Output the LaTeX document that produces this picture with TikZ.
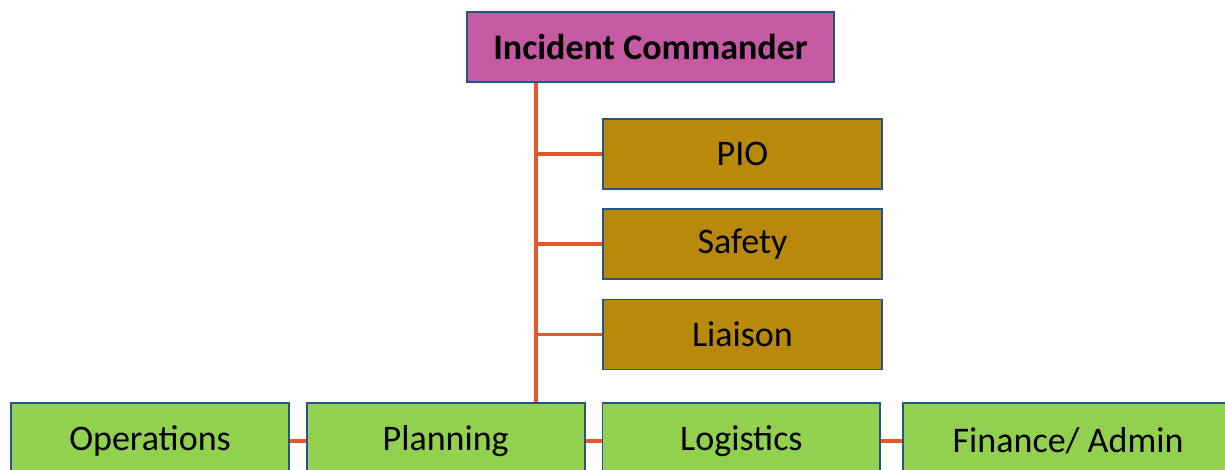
\documentclass[tikz,border=0pt]{standalone}
\usepackage{fontspec}
\setmainfont{Carlito}
\usepackage{xcolor}
\definecolor{cmdpink}{RGB}{197,90,162}
\definecolor{staffgold}{RGB}{185,137,12}
\definecolor{sectgreen}{RGB}{146,208,80}
\definecolor{edgeblue}{RGB}{40,85,130}
\definecolor{linkorange}{RGB}{226,88,41}
\usetikzlibrary{positioning,calc}
\tikzset{
  orgbox/.style={rectangle,draw=edgeblue,line width=1pt,text=black,align=center,
    font=\fontsize{20.5}{24}\selectfont,minimum height=1.4cm,inner sep=2pt},
  chiefbox/.style={orgbox,fill=cmdpink,font=\fontsize{20.5}{24}\selectfont\bfseries,
    minimum width=7.34cm},
  staffbox/.style={orgbox,fill=staffgold,minimum width=5.58cm},
  sectbox/.style={orgbox,fill=sectgreen,minimum width=5.56cm,minimum height=1.52cm},
  link/.style={draw=linkorange,line width=2.2pt},
}

\begin{document}
\begin{tikzpicture}[x=0.02cm,y=-0.02cm]
  \useasboundingbox (0,0) rectangle (1225,470);
  \clip (0,0) rectangle (1225,470);
  % command and staff
  \node[chiefbox] (ic) at (650.5,47) {Incident Commander};
  \node[staffbox] (pio) at (742.5,154) {PIO};
  \node[staffbox,below=0.36cm of pio] (safety) {Safety};
  \node[staffbox,below=0.38cm of safety] (liaison) {Liaison};
  % general staff sections
  \node[sectbox] (ops) at (150,441) {Operations};
  \node[sectbox,right=0.32cm of ops] (plan) {Planning};
  \node[sectbox,right=0.32cm of plan] (logi) {Logistics};
  \node[sectbox,right=0.42cm of logi,minimum width=6.6cm] (fin) {Finance/ Admin};
  % connectors
  \coordinate (trunk) at (536,82);
  \draw[link] (ic.south -| trunk) -- (plan.north -| trunk);
  \foreach \s in {pio,safety,liaison}
    \draw[link] (\s.west -| trunk) -- (\s.west);
  \draw[link] (ops) -- (plan);
  \draw[link] (plan) -- (logi);
  \draw[link] (logi) -- (fin);
\end{tikzpicture}
\end{document}
